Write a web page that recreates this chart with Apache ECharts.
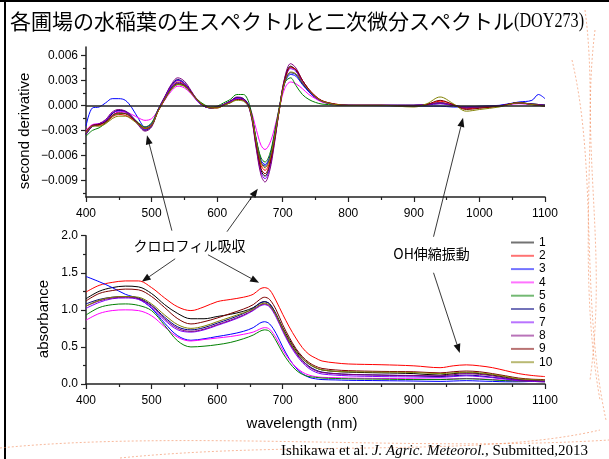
<!DOCTYPE html>
<html>
<head>
<meta charset="utf-8">
<script src="https://cdn.jsdelivr.net/npm/echarts@6/dist/echarts.min.js"></script>
<style>
html,body{margin:0;padding:0;background:#fff}
#c{width:609px;height:459px}
</style>
</head>
<body>
<div id="c"></div>
<script>
// Plot names and colours (one per paddy field)
const names = ['1','2','3','4','5','6','7','8','9','10'];
const colors = ['#000000','#ff0000','#0000ff','#ff00ff','#008000','#000080','#8000ff','#800080','#800000','#808000'];

// Raw absorbance spectra, wavelength in nm
const wlAbs = [400,420,440,460,480,500,520,540,560,580,600,620,640,655,665,672,680,690,700,710,720,730,740,750,760,780,800,850,900,940,960,980,1000,1020,1040,1060,1080,1100];
const abs1  = [1.15,1.25,1.30,1.32,1.31,1.22,1.07,0.95,0.88,0.88,0.91,0.94,0.98,1.03,1.09,1.11,1.08,0.94,0.76,0.60,0.46,0.35,0.27,0.22,0.19,0.17,0.16,0.15,0.14,0.12,0.14,0.15,0.14,0.12,0.09,0.06,0.05,0.04];
const abs2  = [1.24,1.33,1.37,1.39,1.39,1.30,1.16,1.04,0.99,1.04,1.11,1.14,1.17,1.21,1.28,1.30,1.27,1.12,0.94,0.77,0.62,0.49,0.40,0.35,0.31,0.285,0.27,0.26,0.245,0.22,0.245,0.258,0.245,0.22,0.18,0.14,0.115,0.10];
const abs3  = [1.45,1.38,1.30,1.21,1.15,1.02,0.82,0.65,0.59,0.61,0.64,0.67,0.71,0.76,0.82,0.84,0.81,0.68,0.50,0.34,0.22,0.14,0.09,0.07,0.06,0.055,0.05,0.045,0.04,0.035,0.04,0.045,0.04,0.035,0.03,0.03,0.035,0.04];
const abs4  = [0.86,0.95,0.99,1.00,0.99,0.92,0.77,0.63,0.58,0.60,0.62,0.64,0.67,0.70,0.74,0.76,0.74,0.62,0.46,0.33,0.23,0.16,0.12,0.10,0.09,0.085,0.08,0.075,0.07,0.065,0.07,0.075,0.07,0.06,0.05,0.04,0.035,0.03];
const abs5  = [0.93,1.03,1.07,1.08,1.06,0.99,0.79,0.58,0.50,0.51,0.53,0.56,0.61,0.66,0.71,0.73,0.71,0.58,0.42,0.29,0.19,0.13,0.10,0.09,0.08,0.075,0.07,0.065,0.06,0.06,0.065,0.07,0.065,0.055,0.045,0.04,0.035,0.03];
const abs6  = [1.08,1.14,1.17,1.18,1.16,1.06,0.90,0.77,0.73,0.76,0.82,0.88,0.95,1.02,1.09,1.11,1.08,0.94,0.74,0.57,0.43,0.32,0.24,0.19,0.16,0.14,0.13,0.12,0.11,0.10,0.11,0.12,0.11,0.09,0.07,0.05,0.04,0.035];
const abs7  = [1.02,1.10,1.15,1.16,1.14,1.03,0.86,0.73,0.70,0.73,0.79,0.85,0.92,0.99,1.05,1.07,1.04,0.90,0.71,0.54,0.40,0.29,0.21,0.16,0.135,0.12,0.11,0.10,0.095,0.09,0.10,0.11,0.10,0.085,0.065,0.045,0.035,0.03];
const abs8  = [1.05,1.12,1.16,1.17,1.15,1.05,0.88,0.75,0.71,0.74,0.80,0.86,0.93,1.00,1.06,1.08,1.05,0.92,0.73,0.56,0.42,0.31,0.23,0.18,0.155,0.14,0.13,0.12,0.115,0.11,0.125,0.14,0.13,0.11,0.08,0.055,0.045,0.04];
const abs9  = [1.12,1.22,1.26,1.28,1.27,1.18,1.03,0.88,0.81,0.84,0.89,0.95,1.01,1.07,1.14,1.17,1.14,1.00,0.80,0.63,0.48,0.37,0.29,0.24,0.21,0.19,0.18,0.17,0.165,0.15,0.165,0.175,0.165,0.14,0.11,0.08,0.065,0.06];
const abs10 = [1.05,1.13,1.17,1.18,1.17,1.08,0.93,0.80,0.75,0.78,0.84,0.90,0.96,1.01,1.07,1.09,1.06,0.93,0.74,0.58,0.44,0.34,0.27,0.22,0.19,0.17,0.165,0.16,0.155,0.14,0.15,0.16,0.15,0.13,0.10,0.07,0.06,0.05];

// Second-derivative spectra, stored in units of 1e-3
const D2_UNIT = 1e-3;
const wlD2 = [400,410,420,430,440,450,460,470,480,490,500,510,520,530,540,550,560,570,580,590,600,610,620,630,640,650,660,667,673,680,687,695,703,712,720,730,740,750,760,780,800,850,900,920,940,960,980,1000,1030,1060,1080,1090,1100];
const d2_1  = [-3.4,-2.5,-2.3,-1.9,-1.0,-0.6,-0.8,-1.4,-2.2,-2.9,-2.4,-0.5,0.9,2.3,3.0,2.6,1.6,0.5,-0.1,-0.3,-0.2,0.1,0.5,0.9,0.7,-0.5,-5.0,-7.8,-8.5,-7.3,-4.4,-0.4,3.2,4.7,4.2,2.7,1.7,0.9,0.45,0.1,0.0,0.0,0.0,0.1,0.3,0.0,-0.3,-0.2,-0.1,0.3,0.15,0.1,0.0];
const d2_2  = [-3.2,-2.4,-2.4,-2.1,-1.4,-1.1,-1.2,-1.6,-2.2,-2.7,-2.3,-0.7,0.7,2.1,2.8,2.5,1.6,0.6,0.0,-0.3,-0.3,0.0,0.4,0.8,0.7,-0.4,-4.6,-7.2,-7.8,-6.8,-4.2,-0.5,2.8,4.5,4.3,3.0,1.9,1.1,0.55,0.15,0.0,0.0,-0.05,0.1,0.5,0.1,-0.4,-0.3,-0.1,0.3,0.1,0.0,-0.1];
const d2_3  = [-2.5,-0.3,-0.2,0.3,0.8,0.8,0.6,-0.3,-1.6,-2.6,-2.2,-0.6,0.8,2.1,2.7,2.4,1.5,0.5,-0.1,-0.3,-0.2,0.1,0.5,0.9,0.8,-0.4,-4.3,-6.6,-7.1,-6.2,-3.8,-0.3,2.6,3.7,3.5,2.5,1.6,0.9,0.45,0.1,0.0,-0.05,-0.1,-0.1,-0.1,-0.2,-0.2,-0.1,0.0,0.4,0.6,1.3,0.8];
const d2_4  = [-3.0,-2.3,-2.2,-1.9,-1.2,-0.8,-0.8,-1.1,-1.5,-1.8,-1.6,-0.6,0.6,1.7,2.3,2.1,1.4,0.5,0.0,-0.2,-0.2,0.1,0.4,0.8,0.7,-0.3,-3.0,-4.8,-5.3,-4.6,-2.9,-0.3,2.0,2.8,2.6,2.0,1.3,0.8,0.4,0.1,0.0,0.0,0.0,0.1,0.3,0.0,-0.3,-0.2,-0.1,0.2,0.1,0.0,0.0];
const d2_5  = [-3.7,-3.0,-2.7,-2.1,-1.3,-1.0,-1.0,-1.4,-2.1,-2.6,-2.1,-0.5,0.7,1.9,2.5,2.3,1.6,0.7,0.1,-0.2,-0.1,0.3,0.7,1.3,1.3,-0.1,-4.2,-6.3,-6.8,-5.9,-3.5,-0.1,2.7,3.3,2.4,1.3,0.7,0.35,0.15,0.05,0.0,0.0,0.0,0.1,0.3,0.0,-0.3,-0.2,-0.1,0.3,0.15,0.1,0.05];
const d2_6  = [-3.5,-2.5,-2.3,-1.9,-1.0,-0.6,-0.7,-1.3,-2.3,-3.0,-2.5,-0.5,1.0,2.4,3.1,2.7,1.7,0.6,-0.1,-0.3,-0.2,0.1,0.5,0.9,0.8,-0.4,-4.4,-6.8,-7.3,-6.4,-3.9,-0.3,2.8,3.9,3.7,2.6,1.7,1.0,0.5,0.1,0.0,0.0,0.0,0.05,0.2,0.0,-0.2,-0.15,-0.05,0.3,0.15,0.1,0.0];
const d2_7  = [-3.3,-2.4,-2.2,-1.8,-0.9,-0.7,-0.8,-1.4,-2.3,-2.9,-2.4,-0.6,0.9,2.3,3.0,2.6,1.6,0.5,-0.1,-0.3,-0.2,0.1,0.4,0.8,0.6,-0.6,-5.2,-8.1,-8.8,-7.6,-4.6,-0.4,3.0,4.4,4.1,2.8,1.8,1.0,0.5,0.1,0.0,0.0,0.0,0.1,0.2,0.0,-0.2,-0.15,-0.05,0.25,0.1,0.05,0.0];
const d2_8  = [-3.5,-2.5,-2.2,-1.7,-0.8,-0.5,-0.7,-1.4,-2.4,-3.1,-2.6,-0.6,1.0,2.5,3.3,2.9,1.8,0.6,-0.1,-0.3,-0.2,0.1,0.5,1.0,0.8,-0.6,-5.4,-8.4,-9.2,-7.9,-4.8,-0.4,3.3,5.0,4.5,3.0,1.9,1.0,0.5,0.1,0.0,0.0,0.0,0.1,0.3,0.0,-0.3,-0.2,-0.1,0.3,0.15,0.1,0.0];
const d2_9  = [-3.2,-2.4,-2.3,-2.0,-1.2,-0.9,-1.0,-1.5,-2.2,-2.8,-2.4,-0.7,0.7,2.0,2.6,2.4,1.6,0.6,0.0,-0.3,-0.3,0.0,0.3,0.7,0.6,-0.5,-4.8,-7.6,-8.2,-7.1,-4.3,-0.4,3.0,4.6,4.3,3.0,1.9,1.1,0.55,0.15,0.0,0.0,-0.1,0.1,0.6,0.1,-0.5,-0.35,-0.1,0.3,0.1,0.0,-0.1];
const d2_10 = [-3.3,-2.5,-2.5,-2.2,-1.6,-1.3,-1.3,-1.7,-2.3,-2.8,-2.4,-0.7,0.7,1.9,2.5,2.3,1.5,0.6,0.0,-0.3,-0.3,0.0,0.3,0.6,0.5,-0.5,-4.4,-6.9,-7.5,-6.5,-4.0,-0.4,2.7,4.0,3.8,2.7,1.8,1.0,0.5,0.1,0.0,0.0,-0.2,0.2,1.0,0.2,-0.7,-0.5,-0.2,0.3,0.1,0.0,-0.1];

// Axis ticks
const d2Labels = [-0.009,-0.006,-0.003,0,0.003,0.006];
const d2Minor  = [-0.0105,-0.0075,-0.0045,-0.0015,0.0015,0.0045];

// Annotation arrows: [grid, [nm, value]] for tail and head
const chlArrows = [
  [[1,[531,2.068]],[0,[493,-0.0036]]],
  [[1,[615,2.054]],[0,[662,-0.0100]]],
  [[1,[536,1.689]],[1,[485,1.378]]],
  [[1,[586,1.743]],[1,[664,1.365]]]
];
const ohArrows = [
  [[1,[930,1.986]],[0,[975,-0.0015]]],
  [[1,[930,1.500]],[1,[970,0.419]]]
];

const absSets = [abs1,abs2,abs3,abs4,abs5,abs6,abs7,abs8,abs9,abs10];
const d2Sets  = [d2_1,d2_2,d2_3,d2_4,d2_5,d2_6,d2_7,d2_8,d2_9,d2_10];

const SANS = 'Liberation Sans, Arial, sans-serif';
const JP = 'Noto Sans CJK JP, sans-serif';
const SERIF = 'Liberation Serif, Times New Roman, serif';
const axisColor = '#222';

function xAxisOf(grid) {
  return {
    type: 'value', gridIndex: grid, min: 400, max: 1100, interval: 100,
    axisLine: { show: true, onZero: false, lineStyle: { color: axisColor, width: 1.5 } },
    axisTick: { show: true, length: 5, lineStyle: { color: axisColor, width: 1.2 } },
    minorTick: { show: true, splitNumber: 2, length: 3, lineStyle: { color: axisColor, width: 1.2 } },
    axisLabel: { color: '#000', fontSize: 12, fontFamily: SANS, margin: 11, formatter: v => String(v) },
    splitLine: { show: false }, minorSplitLine: { show: false }
  };
}

const fmtD2 = v => (v < 0 ? '\u2212' : '') + Math.abs(v).toFixed(3);

const series = [];
d2Sets.forEach((arr, i) => {
  const s = {
    type: 'line', name: names[i], xAxisIndex: 0, yAxisIndex: 0,
    data: wlD2.map((w, k) => [w, arr[k] * D2_UNIT]),
    symbol: 'none', smooth: 0.35,
    lineStyle: { width: 1, color: colors[i] }, itemStyle: { color: colors[i] }
  };
  if (i === 0) {
    s.markLine = {
      silent: true, symbol: 'none', label: { show: false },
      lineStyle: { color: axisColor, width: 1.5, type: 'solid' },
      data: [{ yAxis: 0 }]
    };
  }
  series.push(s);
});
absSets.forEach((arr, i) => {
  series.push({
    type: 'line', name: names[i], xAxisIndex: 1, yAxisIndex: 2,
    data: wlAbs.map((w, k) => [w, arr[k]]),
    symbol: 'none', smooth: 0.35,
    lineStyle: { width: 1, color: colors[i] }, itemStyle: { color: colors[i] }
  });
});

const option = {
  animation: false,
  backgroundColor: '#fff',
  grid: [
    { left: 86, top: 47, width: 459, height: 150 },
    { left: 86, top: 235.7, width: 459, height: 148.3 }
  ],
  xAxis: [xAxisOf(0), xAxisOf(1)],
  yAxis: [
    {
      type: 'value', gridIndex: 0, position: 'left', min: -0.011, max: 0.007,
      axisLine: { show: true, onZero: false, lineStyle: { color: axisColor, width: 1.5 } },
      axisTick: { show: true, length: 5, customValues: d2Labels, lineStyle: { color: axisColor, width: 1.2 } },
      axisLabel: { color: '#000', fontSize: 12, fontFamily: SANS, margin: 8, customValues: d2Labels, formatter: fmtD2 },
      splitLine: { show: false }
    },
    {
      type: 'value', gridIndex: 0, position: 'left', offset: 0, min: -0.011, max: 0.007,
      axisLine: { show: false, onZero: false },
      axisTick: { show: true, length: 3, customValues: d2Minor, lineStyle: { color: axisColor, width: 1.2 } },
      axisLabel: { show: false },
      splitLine: { show: false }
    },
    {
      type: 'value', gridIndex: 1, position: 'left', min: 0, max: 2, interval: 0.5,
      axisLine: { show: true, onZero: false, lineStyle: { color: axisColor, width: 1.5 } },
      axisTick: { show: true, length: 5, lineStyle: { color: axisColor, width: 1.2 } },
      minorTick: { show: true, splitNumber: 2, length: 3, lineStyle: { color: axisColor, width: 1.2 } },
      axisLabel: { color: '#000', fontSize: 12, fontFamily: SANS, margin: 8, formatter: v => v.toFixed(1) },
      splitLine: { show: false }, minorSplitLine: { show: false }
    }
  ],
  legend: {
    data: names, orient: 'vertical', left: 505, top: 231,
    itemWidth: 23, itemHeight: 13, itemGap: 0.3,
    itemStyle: { opacity: 0 },
    lineStyle: { width: 2, opacity: 0.55 },
    textStyle: { color: '#000', fontSize: 12, fontFamily: SANS, lineHeight: 13 },
    selectedMode: false
  },
  series: series
};

const chart = echarts.init(document.getElementById('c'), null, { renderer: 'canvas' });
chart.setOption(option);

function px(p) { return chart.convertToPixel({ gridIndex: p[0] }, p[1]); }

function arrow(tail, head) {
  const a = px(tail), b = px(head);
  const dx = b[0] - a[0], dy = b[1] - a[1];
  const len = Math.hypot(dx, dy), ux = dx / len, uy = dy / len;
  const L = 9, W = 3.5;
  const bx = b[0] - ux * L, by = b[1] - uy * L;
  return [
    { type: 'line', silent: true, shape: { x1: a[0], y1: a[1], x2: bx, y2: by }, style: { stroke: '#222', lineWidth: 0.9 } },
    { type: 'polygon', silent: true, shape: { points: [[b[0], b[1]], [bx - uy * W, by + ux * W], [bx + uy * W, by - ux * W]] }, style: { fill: '#111' } }
  ];
}

const graphics = [];
// slide frame
graphics.push({ type: 'line', shape: { x1: 0, y1: 1, x2: 609, y2: 1 }, style: { stroke: '#000', lineWidth: 2 } });
graphics.push({ type: 'line', shape: { x1: 5, y1: 0, x2: 5, y2: 459 }, style: { stroke: '#000', lineWidth: 2 } });

// decorative orange brush strokes
const deco = [
  [[585, 10], [600, 120], [575, 260], [600, 400]],
  [[595, 30], [580, 150], [608, 250], [590, 380]],
  [[572, 60], [598, 170], [580, 300], [606, 420]],
  [[0, 448], [180, 430], [420, 452], [609, 440]],
  [[120, 458], [300, 440], [480, 458], [600, 430]]
];
deco.forEach(c => graphics.push({
  type: 'bezierCurve', silent: true,
  shape: { x1: c[0][0], y1: c[0][1], cpx1: c[1][0], cpy1: c[1][1], cpx2: c[2][0], cpy2: c[2][1], x2: c[3][0], y2: c[3][1] },
  style: { stroke: '#f0804a', lineWidth: 1, lineDash: [2, 2], opacity: 0.55 }
}));

// title
graphics.push({ type: 'text', x: 10, y: 21, style: { text: '各圃場の水稲葉の生スペクトルと二次微分スペクトル', font: '21px ' + JP, fill: '#000', textVerticalAlign: 'middle' } });
graphics.push({ type: 'text', x: 514, y: 21, scaleX: 0.77, style: { text: '(DOY273)', font: '21px ' + SERIF, fill: '#000', textVerticalAlign: 'middle' } });

// axis titles
graphics.push({ type: 'text', x: 25, y: 131, rotation: Math.PI / 2, style: { text: 'second derivative', font: '15px ' + SANS, fill: '#000', textAlign: 'center', textVerticalAlign: 'middle' } });
graphics.push({ type: 'text', x: 44, y: 319, rotation: Math.PI / 2, style: { text: 'absorbance', font: '15px ' + SANS, fill: '#000', textAlign: 'center', textVerticalAlign: 'middle' } });
graphics.push({ type: 'text', x: 302, y: 424, style: { text: 'wavelength (nm)', font: '15px ' + SANS, fill: '#000', textAlign: 'center', textVerticalAlign: 'middle' } });

// annotations
const chlPos = px([1, [558, 1.865]]);
graphics.push({ type: 'text', x: chlPos[0], y: chlPos[1], style: { text: 'クロロフィル吸収', font: '14px ' + JP, fill: '#000', textAlign: 'center', textVerticalAlign: 'middle' } });
const ohPos = px([1, [927, 1.757]]);
graphics.push({ type: 'text', x: ohPos[0], y: ohPos[1], style: { text: 'OH伸縮振動', font: '14px ' + JP, fill: '#000', textAlign: 'center', textVerticalAlign: 'middle' } });
chlArrows.concat(ohArrows).forEach(a => arrow(a[0], a[1]).forEach(g => graphics.push(g)));

// citation
graphics.push({
  type: 'text', x: 588, y: 451,
  style: {
    text: '{n|Ishikawa et al. }{i|J. Agric. Meteorol.}{n|, Submitted,2013}',
    textAlign: 'right', textVerticalAlign: 'middle',
    rich: {
      n: { font: '15px ' + SERIF, fill: '#000' },
      i: { font: 'italic 15px ' + SERIF, fill: '#000' }
    }
  }
});

chart.setOption({ graphic: graphics });
</script>
</body>
</html>
